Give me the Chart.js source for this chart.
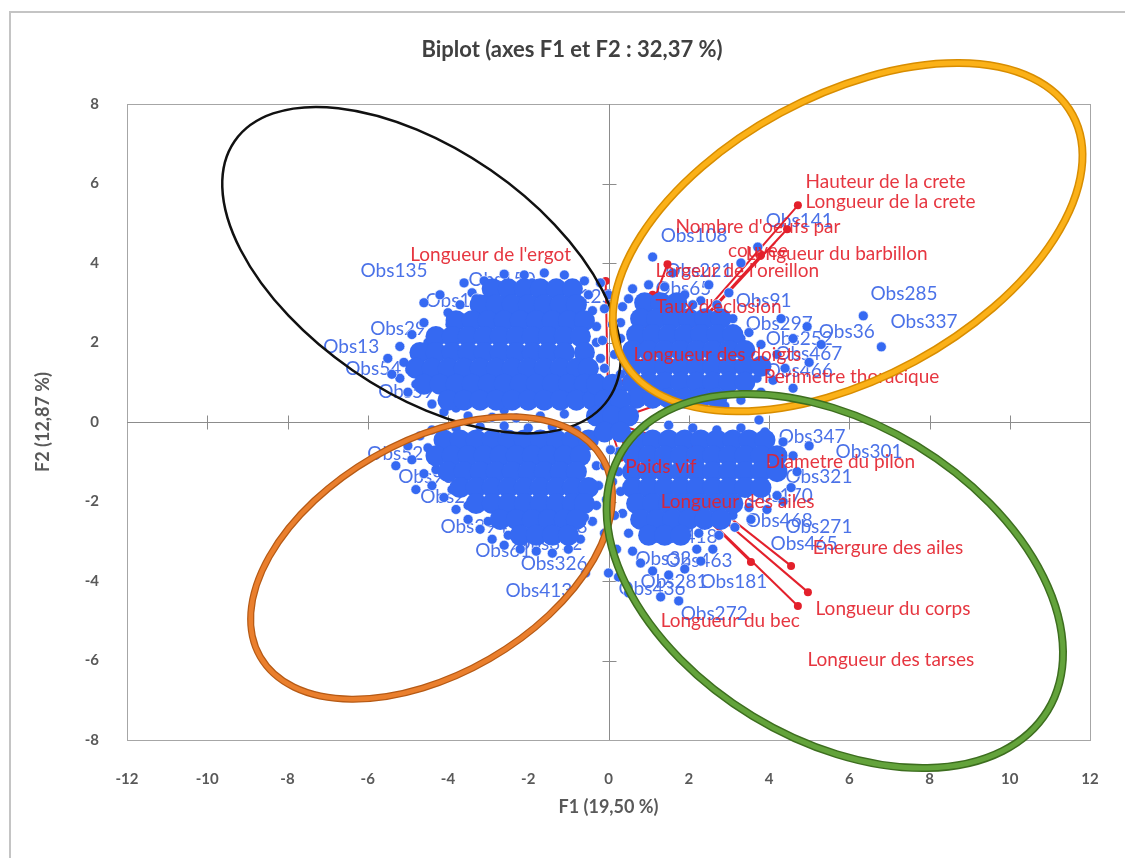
<!DOCTYPE html>
<html>
<head>
<meta charset="utf-8">
<title>Biplot (axes F1 et F2 : 32,37 %)</title>
<script src="https://cdn.jsdelivr.net/npm/chart.js@4.4.1/dist/chart.umd.min.js"></script>
<style>
  html, body { margin: 0; padding: 0; background: #fff; }
  canvas { display: block; }
</style>
</head>
<body>
<canvas id="biplot" width="1125" height="858"></canvas>
<script>
// ---- observations: dense cores, one row per F2 value: [F2, F1, F1, ...]
const coreUL = [
  [3.35, -2.9, -2.5, -2.1, -1.7, -1.3, -0.9],
  [2.95, -3.2, -2.8, -2.4, -2.0, -1.6, -1.2, -0.8],
  [2.55, -3.8, -3.4, -3.0, -2.6, -2.2, -1.8, -1.4, -1.0, -0.6],
  [2.15, -4.3, -3.9, -3.5, -3.1, -2.7, -2.3, -1.9, -1.5, -1.1, -0.7],
  [1.75, -4.7, -4.3, -3.9, -3.5, -3.1, -2.7, -2.3, -1.9, -1.5, -1.1, -0.6],
  [1.35, -4.8, -4.4, -4.0, -3.6, -3.2, -2.8, -2.4, -2.0, -1.6, -1.2, -0.8, -0.5],
  [0.95, -4.6, -4.2, -3.8, -3.4, -3.0, -2.6, -2.2, -1.8, -1.4, -1.0, -0.6],
  [0.55, -4.0, -3.6, -3.2, -2.8, -2.4, -2.0, -1.6, -1.2, -0.8, -0.4]
];
const coreLL = [
  [-0.45, -4.1, -3.7, -3.3, -2.9, -2.5, -2.1, -1.7, -1.3, -0.9, -0.5],
  [-0.85, -4.3, -3.9, -3.5, -3.1, -2.7, -2.3, -1.9, -1.5, -1.1, -0.7],
  [-1.25, -4.0, -3.6, -3.2, -2.8, -2.4, -2.0, -1.6, -1.2, -0.8],
  [-1.65, -3.7, -3.3, -2.9, -2.5, -2.1, -1.7, -1.3, -0.9, -0.5],
  [-2.05, -3.3, -2.9, -2.5, -2.1, -1.7, -1.3, -0.9, -0.6],
  [-2.45, -2.7, -2.3, -1.9, -1.5, -1.1, -0.8],
  [-2.85, -2.2, -1.8, -1.4, -1.0]
];
const coreUR = [
  [3.0, 0.9, 1.3, 1.7],
  [2.6, 0.8, 1.2, 1.6, 2.0, 2.4, 2.8],
  [2.2, 0.7, 1.1, 1.5, 1.9, 2.3, 2.7, 3.1],
  [1.8, 0.6, 1.0, 1.4, 1.8, 2.2, 2.6, 3.0, 3.4],
  [1.4, 0.6, 1.0, 1.4, 1.8, 2.2, 2.6, 3.0, 3.4, 3.8],
  [1.0, 0.6, 1.0, 1.4, 1.8, 2.2, 2.6, 3.0, 3.4],
  [0.6, 0.7, 1.1, 1.5, 1.9, 2.3, 2.7]
];
const coreLR = [
  [-0.45, 0.7, 1.1, 1.5, 1.9, 2.3, 2.7, 3.1, 3.5, 3.9],
  [-0.85, 0.6, 1.0, 1.4, 1.8, 2.2, 2.6, 3.0, 3.4, 3.8, 4.2],
  [-1.25, 0.6, 1.0, 1.4, 1.8, 2.2, 2.6, 3.0, 3.4, 3.8, 4.2],
  [-1.65, 0.6, 1.0, 1.4, 1.8, 2.2, 2.6, 3.0, 3.4, 3.8],
  [-2.05, 0.7, 1.1, 1.5, 1.9, 2.3, 2.7, 3.1],
  [-2.45, 0.8, 1.2, 1.6, 2.0, 2.4, 2.8],
  [-2.85, 1.0, 1.4, 1.8]
];
const coreMid = [
  [0.95, -0.3, 0.1],
  [0.55, -0.1, 0.3],
  [0.15, -0.3, 0.1, 0.5],
  [-0.25, -0.1, 0.3]
];

// ---- observations: scattered points at the rims, [F1, F2]
const edgeUL = [[-5.2,1.9],[-5.1,1.5],[-5.2,1.1],[-5.0,0.75],[-4.9,2.2],[-4.6,2.5],[-4.4,0.45],[-4.1,0.25],
  [-3.5,0.15],[-2.9,0.12],[-2.3,0.1],[-1.7,0.15],[-1.1,0.2],[-0.35,0.35],[-0.25,1.1],[-0.2,1.6],[-0.3,2.0],
  [-0.3,2.4],[-0.4,2.8],[-0.5,3.2],[-0.6,3.55],[-1.1,3.7],[-1.6,3.75],[-2.1,3.7],[-2.6,3.72],[-3.1,3.55],
  [-3.4,3.25],[-3.7,2.95],[-4.0,2.75],[-4.2,3.2],[-4.6,3.0],[-5.5,1.6],[-5.4,1.2],[-3.6,3.5],
  [-4.95,1.3],[-4.8,0.95],[-4.5,2.0],[-3.95,2.45],[-3.3,3.1],[-2.55,3.45],[-1.9,3.5],[-3.8,0.35],[-2.6,0.3]];
const edgeLL = [[-5.0,-0.6],[-4.7,-0.35],[-4.4,-0.2],[-3.8,-0.15],[-3.2,-0.12],[-2.6,-0.1],[-2.0,-0.15],
  [-1.4,-0.12],[-0.8,-0.2],[-0.3,-0.3],[-4.9,-0.95],[-4.6,-1.3],[-4.4,-1.6],[-4.1,-1.9],[-3.8,-2.2],
  [-3.5,-2.45],[-3.2,-2.7],[-2.9,-2.95],[-2.6,-3.1],[-2.2,-3.2],[-1.8,-3.25],[-1.4,-3.3],[-1.0,-3.2],
  [-0.7,-2.95],[-0.4,-2.5],[-0.3,-2.1],[-0.25,-1.6],[-0.3,-1.1],[-0.57,-3.8],[0.0,-3.8],[-5.3,-1.1],[-4.8,-1.7],
  [-4.5,-0.65],[-4.3,-1.2],[-3.9,-1.7],[-3.5,-2.1],[-3.0,-2.5],[-2.5,-2.85],[-0.6,-2.4]];
const edgeUR = [[0.6,3.35],[1.0,3.45],[1.4,3.4],[1.9,3.2],[2.3,3.05],[2.7,2.95],[3.1,2.6],[3.5,2.25],
  [3.8,1.95],[4.2,1.7],[4.4,1.35],[4.1,1.05],[3.8,0.75],[3.3,0.55],[2.9,0.4],[0.35,2.9],[0.3,2.5],[0.3,2.1],
  [0.3,1.65],[0.3,1.2],[0.35,0.8],[1.1,4.15],[3.72,4.4],[1.6,3.75],[2.5,3.45],[3.0,3.25],[4.6,2.1],
  [4.95,2.4],[5.3,1.95],[4.6,0.85],[6.35,2.67],[6.8,1.89],[3.3,4.0],[5.0,1.5],[4.3,2.6],
  [2.1,2.95],[3.3,2.1],[3.7,1.1],[2.95,0.7],[0.5,3.1]];
const edgeLR = [[0.3,-0.25],[0.9,-0.1],[1.5,-0.08],[2.1,-0.15],[2.7,-0.2],[3.3,-0.15],[3.9,-0.25],
  [4.35,-0.5],[4.6,-0.85],[4.7,-1.25],[4.55,-1.65],[4.35,-2.0],[3.95,-2.2],[3.55,-2.45],[3.15,-2.65],
  [2.75,-2.85],[0.25,-0.75],[0.25,-1.25],[0.3,-1.75],[0.35,-2.3],[0.5,-2.8],[0.6,-3.25],[0.8,-3.55],
  [1.1,-3.75],[1.5,-3.85],[1.9,-3.7],[2.3,-3.5],[2.6,-3.2],[0.25,-3.9],[1.3,-4.4],[1.75,-4.5],[0.5,-4.3],
  [5.0,-0.6],[3.75,0.05],[2.2,-3.2],[4.2,-1.85],[3.5,-2.15],[3.1,-2.35],[2.25,-2.8],[0.75,-2.55]];
const edgeMid = [[-0.1,1.35],[0.15,1.7],[-0.15,2.05],[0.1,2.45],[-0.1,2.85],[0.0,3.2],[0.05,-0.7],
  [-0.1,-1.1],[0.1,-1.5],[-0.05,-1.95],[0.15,-2.35],[-0.1,-2.8],[0.2,-3.2],[-0.2,3.5]];

// ---- observation labels (text start, F1 / F2)
const obsNames = ['Obs135','Obs150','Obs105','Obs29','Obs13','Obs54','Obs59','Obs52','Obs93','Obs211',
  'Obs394','Obs348','Obs61','Obs312','Obs326','Obs413','Obs108','Obs141','Obs221','Obs65','Obs91',
  'Obs297','Obs252','Obs36','Obs467','Obs466','Obs285','Obs337','Obs347','Obs301','Obs321','Obs170',
  'Obs468','Obs271','Obs465','Obs418','Obs32','Obs463','Obs281','Obs181','Obs436','Obs272','Obs125'];
const obsLabelX = [-6.18,-3.49,-4.56,-5.94,-7.11,-6.56,-5.74,-6.01,-5.24,-4.69,
  -4.19,-2.19,-3.32,-2.32,-2.19,-2.57,1.30,3.92,1.42,1.17,3.17,
  3.42,3.92,5.24,4.16,3.92,6.53,7.03,4.24,5.66,4.41,3.42,
  3.42,4.41,4.04,1.05,0.67,1.42,0.80,2.29,0.25,1.80,-1.57];
const obsLabelY = [3.80,3.57,3.04,2.34,1.89,1.33,0.75,-0.81,-1.38,-1.89,
  -2.64,-2.64,-3.25,-3.07,-3.57,-4.25,4.68,5.06,3.80,3.35,3.04,
  2.47,2.09,2.26,1.71,1.28,3.22,2.52,-0.38,-0.75,-1.38,-1.86,
  -2.49,-2.64,-3.07,-2.89,-3.45,-3.50,-4.03,-4.03,-4.20,-4.83,3.14];

// ---- variables (vector end, F1 / F2) and their label positions
const varNames = ['Hauteur de la crete','Longueur de la crete',"Nombre d'oeufs par\ncouvée",
  'Longueur du barbillon',"Largeur de l'oreillon","Taux d'eclosion",'Longueur des doigts',
  'Perimetre thoracique','Diametre du pilon','Poids vif','Longueur des ailes','Energure des ailes',
  'Longueur du corps','Longueur du bec','Longueur des tarses',"Longueur de l'ergot"];
const varX = [4.72, 4.45, 1.47, 3.8, 1.1, 1.0, 0.5, 3.4, 3.0, 0.3, 1.2, 4.55, 4.97, 3.55, 4.72, -0.07];
const varY = [5.45, 4.85, 3.97, 4.2, 3.2, 2.4, 1.3, 1.2, -0.9, -0.9, -1.7, -3.62, -4.28, -3.52, -4.63, 3.55];
const varLabelX = [4.91, 4.91, 1.67, 3.42, 1.17, 1.17, 0.62, 3.87, 3.92, 0.42, 1.30, 5.09, 5.16, 1.30, 4.96, -4.94];
const varLabelY = [6.04, 5.53, 4.91, 4.23, 3.80, 2.89, 1.69, 1.13, -1.01, -1.13, -2.01, -3.17, -4.70, -5.01, -5.99, 4.20];

// ---- hand-drawn groups (centre, semi-axes in F1 units, tilt in degrees)
const ellCX = [-4.66, 5.96, -4.41, 5.64];
const ellCY = [3.82, 4.65, -3.42, -4.0];
const ellRX = [5.66, 6.38, 4.93, 6.21];
const ellRY = [3.03, 3.52, 2.90, 3.94];
const ellTilt = [34.6, -28.5, -30, 31.3];

const FONT = "Lato, 'Open Sans', sans-serif";
const BLUE = '#3569f2';
const RED = '#e3202b';
const ellStyles = [
  { outer: '#111111', outerW: 2.5, inner: null },
  { outer: '#d88d00', outerW: 8, inner: '#fbb118', innerW: 5 },
  { outer: '#b65a15', outerW: 7, inner: '#ea7f2d', innerW: 4.5 },
  { outer: '#3d6e1f', outerW: 8, inner: '#63a33b', innerW: 5 }
];

function rowsToPoints(groups) {
  const pts = [];
  groups.forEach(rows => rows.forEach(r => r.slice(1).forEach(x => pts.push({ x: x, y: r[0] }))));
  return pts;
}
function pairsToPoints(groups) {
  const pts = [];
  groups.forEach(list => list.forEach(p => pts.push({ x: p[0], y: p[1] })));
  return pts;
}

const vectorSets = varNames.map((name, i) => ({
  label: name,
  data: [{ x: 0, y: 0 }, { x: varX[i], y: varY[i] }],
  showLine: true,
  borderColor: RED,
  borderWidth: 2,
  pointRadius: [0, 4],
  pointBackgroundColor: RED,
  pointBorderWidth: 0,
  order: 3
}));

const decor = {
  id: 'decor',
  beforeDraw(chart) {
    const ctx = chart.ctx;
    ctx.save();
    ctx.fillStyle = '#fff';
    ctx.fillRect(0, 0, chart.width, chart.height);
    ctx.strokeStyle = '#c4c4c4';
    ctx.lineWidth = 2;
    ctx.beginPath();
    ctx.moveTo(10, chart.height); ctx.lineTo(10, 12); ctx.lineTo(chart.width, 12);
    ctx.stroke();
    ctx.restore();
  },
  beforeDatasetsDraw(chart) {
    const { ctx, chartArea: a, scales: { x, y } } = chart;
    ctx.save();
    ctx.strokeStyle = '#a6a6a6';
    ctx.lineWidth = 1;
    ctx.strokeRect(a.left + 0.5, a.top + 0.5, a.right - a.left, a.bottom - a.top);
    const x0 = Math.round(x.getPixelForValue(0)) + 0.5;
    const y0 = Math.round(y.getPixelForValue(0)) + 0.5;
    ctx.strokeStyle = '#8c8c8c';
    ctx.beginPath();
    ctx.moveTo(x0, a.top); ctx.lineTo(x0, a.bottom);
    ctx.moveTo(a.left, y0); ctx.lineTo(a.right, y0);
    x.ticks.forEach(t => {
      if (t.value === x.min || t.value === x.max) return;
      const px = Math.round(x.getPixelForValue(t.value)) + 0.5;
      ctx.moveTo(px, y0 - 7); ctx.lineTo(px, y0 + 7);
    });
    y.ticks.forEach(t => {
      if (t.value === y.min || t.value === y.max) return;
      const py = Math.round(y.getPixelForValue(t.value)) + 0.5;
      ctx.moveTo(x0 - 7, py); ctx.lineTo(x0 + 7, py);
    });
    ctx.stroke();

    ctx.font = '19px ' + FONT;
    ctx.fillStyle = '#4b72e8';
    ctx.textAlign = 'left';
    ctx.textBaseline = 'middle';
    obsNames.forEach((n, i) => {
      ctx.fillText(n, x.getPixelForValue(obsLabelX[i]), y.getPixelForValue(obsLabelY[i]));
    });
    ctx.restore();
  },
  afterDatasetsDraw(chart) {
    const { ctx, scales: { x, y } } = chart;
    ctx.save();
    ctx.font = '19px ' + FONT;
    ctx.fillStyle = RED;
    ctx.globalAlpha = 0.9;
    ctx.textBaseline = 'middle';
    varNames.forEach((n, i) => {
      const px = x.getPixelForValue(varLabelX[i]);
      const py = y.getPixelForValue(varLabelY[i]);
      const lines = n.split('\n');
      if (lines.length === 1) {
        ctx.textAlign = 'left';
        ctx.fillText(n, px, py);
      } else {
        const w = Math.max(...lines.map(l => ctx.measureText(l).width));
        ctx.textAlign = 'center';
        lines.forEach((l, k) => ctx.fillText(l, px + w / 2, py + k * 24));
      }
    });
    ctx.restore();
  },
  afterDraw(chart) {
    const { ctx, scales: { x, y } } = chart;
    const ppu = x.getPixelForValue(1) - x.getPixelForValue(0);
    ctx.save();
    ellCX.forEach((cx, i) => {
      const st = ellStyles[i];
      const draw = (color, w) => {
        ctx.beginPath();
        ctx.ellipse(x.getPixelForValue(cx), y.getPixelForValue(ellCY[i]),
          ellRX[i] * ppu, ellRY[i] * ppu, ellTilt[i] * Math.PI / 180, 0, Math.PI * 2);
        ctx.strokeStyle = color;
        ctx.lineWidth = w;
        ctx.stroke();
      };
      draw(st.outer, st.outerW);
      if (st.inner) draw(st.inner, st.innerW);
    });
    ctx.fillStyle = '#404040';
    ctx.font = 'bold 22px ' + FONT;
    ctx.textAlign = 'center';
    ctx.textBaseline = 'middle';
    ctx.fillText('Biplot (axes F1 et F2 : 32,37 %)', 572, 50);
    ctx.restore();
  }
};

new Chart(document.getElementById('biplot'), {
  type: 'scatter',
  data: {
    datasets: [
      {
        label: 'Observations (cores)',
        data: rowsToPoints([coreUL, coreLL, coreUR, coreLR, coreMid]),
        backgroundColor: BLUE,
        borderWidth: 0,
        pointRadius: 10.5,
        order: 1
      },
      {
        label: 'Observations',
        data: pairsToPoints([edgeUL, edgeLL, edgeUR, edgeLR, edgeMid]),
        backgroundColor: BLUE,
        borderColor: 'rgba(255,255,255,0.6)',
        borderWidth: 1,
        pointRadius: 5,
        order: 2
      },
      ...vectorSets
    ]
  },
  options: {
    responsive: false,
    animation: false,
    events: [],
    layout: { padding: { left: 0, right: 35, top: 104, bottom: 0 } },
    plugins: {
      legend: { display: false },
      tooltip: { enabled: false },
      title: { display: false }
    },
    scales: {
      x: {
        type: 'linear',
        min: -12, max: 12,
        grid: { display: false },
        border: { display: false },
        ticks: { stepSize: 2, padding: 22, color: '#595959', font: { family: FONT, size: 15, weight: 'bold' } },
        title: { display: true, text: 'F1 (19,50 %)', color: '#595959',
          font: { family: FONT, size: 18, weight: 'bold' }, padding: { top: 0, bottom: 40 } },
        afterFit(scale) { scale.height = 118; }
      },
      y: {
        type: 'linear',
        min: -8, max: 8,
        grid: { display: false },
        border: { display: false },
        ticks: { stepSize: 2, padding: 20, color: '#595959', font: { family: FONT, size: 15, weight: 'bold' } },
        title: { display: true, text: 'F2 (12,87 %)', color: '#595959',
          font: { family: FONT, size: 18, weight: 'bold' }, padding: { top: 32, bottom: 0 } },
        afterFit(scale) { scale.width = 127; }
      }
    }
  },
  plugins: [decor]
});
</script>
</body>
</html>
